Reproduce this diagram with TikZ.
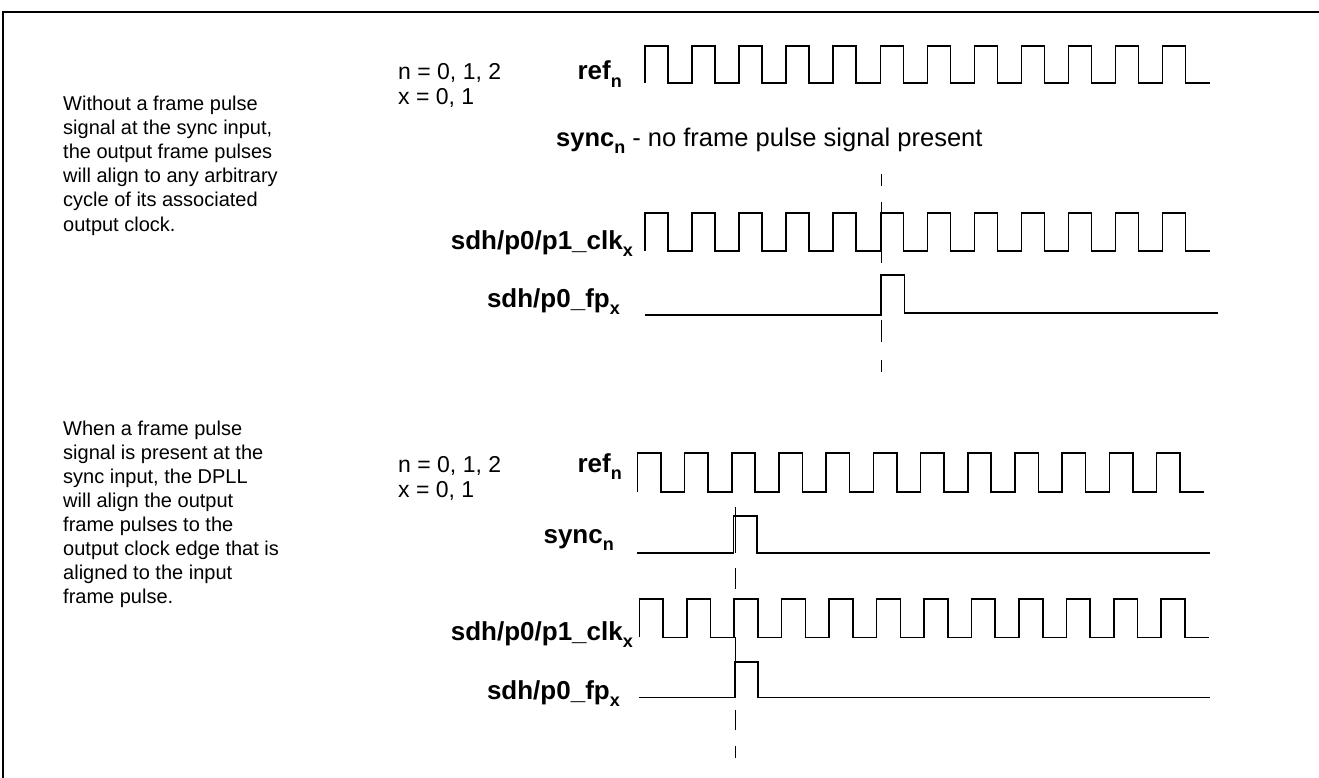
\documentclass[tikz,border=0pt]{standalone}
\usepackage{fontspec}
\setmainfont{Liberation Sans}
\newcommand{\mysub}[1]{\raisebox{-0.27em}{\fontsize{18}{18}\selectfont\bfseries #1}}
\newcommand{\clockwave}[6]{%
  \draw[wave] (#1,#6) \foreach \k in {1,...,#4}{ -- ({#1+(\k-1)*#2},#5) -- ({#1+(\k-1)*#2+#3},#5) -- ({#1+(\k-1)*#2+#3},#6) -- ({#1+\k*#2},#6)};}
\begin{document}
\begin{tikzpicture}[x=1pt,y=-1pt,
  wave/.style={line width=1.6pt, line join=miter},
  dsh/.style={line width=1.4pt},
  txt/.style={inner sep=0pt, anchor=base west, font=\fontsize{20}{24}\selectfont},
  var/.style={inner sep=0pt, anchor=base west, font=\fontsize{23}{24}\selectfont},
  note/.style={inner sep=0pt, anchor=base west, font=\fontsize{25.5}{26}\selectfont},
  lbl/.style={inner sep=0pt, anchor=base east, font=\fontsize{26}{26}\selectfont\bfseries}]
\useasboundingbox (0,0) rectangle (1319,778);
\draw[line width=2.2pt] (3,778) -- (3,12) -- (1319,12);

% ---------- upper diagram ----------
\node[txt] (a1) at (63,111) {Without a frame pulse};
\node[txt] (a2) at (63,135) {signal at the sync input,};
\node[txt] (a3) at (63,159) {the output frame pulses};
\node[txt] (a4) at (63,183) {will align to any arbitrary};
\node[txt] (a5) at (63,207) {cycle of its associated};
\node[txt] (a6) at (63,231) {output clock.};
\node[var] (an) at (398,80) {n = 0, 1, 2};
\node[var] (ax) at (398,105) {x = 0, 1};
\node[lbl] (aref) at (622,80) {ref\mysub{n}};
\node[note] (async) at (556,147) {\textbf{sync\mysub{n}} - no frame pulse signal present};
\node[lbl] (aclk) at (633,249) {sdh/p0/p1\_clk\mysub{x}};
\node[lbl] (afp) at (620,307) {sdh/p0\_fp\mysub{x}};

\clockwave{645}{47.06}{23}{12}{46}{83}
\clockwave{645}{47.06}{23}{12}{213}{251}
\draw[wave] (645,315) -- (881,315) -- (881,275) -- (904.3,275) -- (904.3,312.7) -- (1218,312.7);
\draw[dsh] (881.5,174) -- (881.5,186);
\draw[dsh] (881.5,202) -- (881.5,263);
\draw[dsh] (881.5,320) -- (881.5,342);
\draw[dsh] (881.5,360) -- (881.5,372);

% ---------- lower diagram ----------
\node[txt] (b1) at (63,435) {When a frame pulse};
\node[txt] (b2) at (63,459) {signal is present at the};
\node[txt] (b3) at (63,483) {sync input, the DPLL};
\node[txt] (b4) at (63,507) {will align the output};
\node[txt] (b5) at (63,531) {frame pulses to the};
\node[txt] (b6) at (63,555) {output clock edge that is};
\node[txt] (b7) at (63,579) {aligned to the input};
\node[txt] (b8) at (63,603) {frame pulse.};
\node[var] (bn) at (398,472) {n = 0, 1, 2};
\node[var] (bx) at (398,497) {x = 0, 1};
\node[lbl] (bref) at (622,472) {ref\mysub{n}};
\node[lbl] (bsync) at (614,543) {sync\mysub{n}};
\node[lbl] (bclk) at (633,640) {sdh/p0/p1\_clk\mysub{x}};
\node[lbl] (bfp) at (620,699) {sdh/p0\_fp\mysub{x}};

\clockwave{637.3}{47.2}{23.5}{12}{453}{492}
\draw[wave] (637,553) -- (733.5,553) -- (733.5,516) -- (757,516) -- (757,553) -- (1210,553);
\clockwave{639.3}{47.45}{23.8}{12}{599}{637.3}
\draw[wave] (639.3,697.3) -- (734.8,697.3) -- (734.8,661.7) -- (757.7,661.7) -- (757.7,697.3) -- (1210,697.3);
\draw[dsh] (735.5,507) -- (735.5,553);
\draw[dsh] (735.5,568) -- (735.5,589);
\draw[dsh] (735.5,637) -- (735.5,697);
\draw[dsh] (735.5,710) -- (735.5,730);
\draw[dsh] (735.5,746) -- (735.5,758);
\end{tikzpicture}
\end{document}
